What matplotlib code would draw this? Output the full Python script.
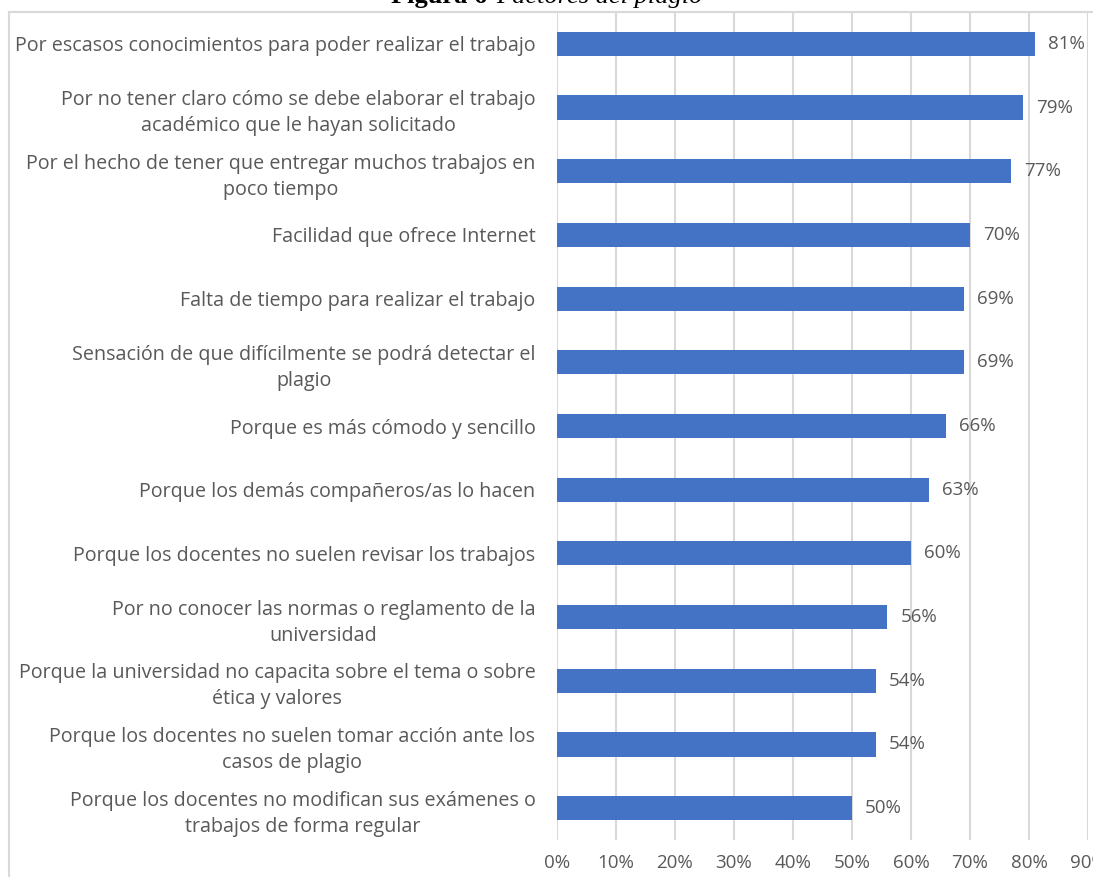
import matplotlib.pyplot as plt
from matplotlib.lines import Line2D

categorias = [
    'Por escasos conocimientos para poder realizar el trabajo',
    'Por no tener claro cómo se debe elaborar el trabajo\nacadémico que le hayan solicitado',
    'Por el hecho de tener que entregar muchos trabajos en\npoco tiempo',
    'Facilidad que ofrece Internet',
    'Falta de tiempo para realizar el trabajo',
    'Sensación de que difícilmente se podrá detectar el\nplagio',
    'Porque es más cómodo y sencillo',
    'Porque los demás compañeros/as lo hacen',
    'Porque los docentes no suelen revisar los trabajos',
    'Por no conocer las normas o reglamento de la\nuniversidad',
    'Porque la universidad no capacita sobre el tema o sobre\nética y valores',
    'Porque los docentes no suelen tomar acción ante los\ncasos de plagio',
    'Porque los docentes no modifican sus exámenes o\ntrabajos de forma regular',
]
valores = [81, 79, 77, 70, 69, 69, 66, 63, 60, 56, 54, 54, 50]
ticks = [0, 10, 20, 30, 40, 50, 60, 70, 80, 90]

gris = '#595959'
fuente = 'Open Sans'
tam = 14.2

fig = plt.figure(figsize=(10.93, 8.77), dpi=100)
ax = fig.add_axes([0.5096, 0.0422, 0.4858, 0.9441])

pos = list(range(len(categorias)))[::-1]
ax.barh(pos, valores, height=0.38, color='#4472C4', zorder=3)
for p, v in zip(pos, valores):
    ax.text(v + 2.2, p, '{}%'.format(v), va='center', ha='left',
            fontsize=13.5, color=gris, family=fuente)

ax.set_xlim(0, 90)
ax.set_ylim(-0.5, len(categorias) - 0.5)
ax.set_xticks(ticks)
ax.set_xticklabels(['{}%'.format(t) for t in ticks], fontsize=13.5, color=gris, family=fuente)
ax.set_yticks(pos)
ax.set_yticklabels(categorias, fontsize=tam, color=gris, family=fuente,
                   multialignment='center', linespacing=1.4)
ax.tick_params(length=0, pad=10, axis='x')
ax.tick_params(length=0, pad=15.5, axis='y')
ax.grid(axis='x', color='#d9d9d9', linewidth=1.5, zorder=0)
for s in ax.spines.values():
    s.set_visible(False)

# marco del gráfico
fig.add_artist(Line2D([9 / 1093, 1], [1 - 12 / 877] * 2, color='#d9d9d9', lw=1.5))
fig.add_artist(Line2D([9 / 1093] * 2, [0, 1 - 12 / 877], color='#d9d9d9', lw=1.5))

fig.text(494 / 1093, 1 - 3 / 877, 'Figura 6 ', ha='right', va='baseline',
         fontsize=19, family='Liberation Serif', weight='bold')
fig.text(496 / 1093, 1 - 3 / 877, 'Factores del plagio', ha='left', va='baseline',
         fontsize=19, family='Liberation Serif', style='italic')

plt.savefig('out.png', dpi=100)
